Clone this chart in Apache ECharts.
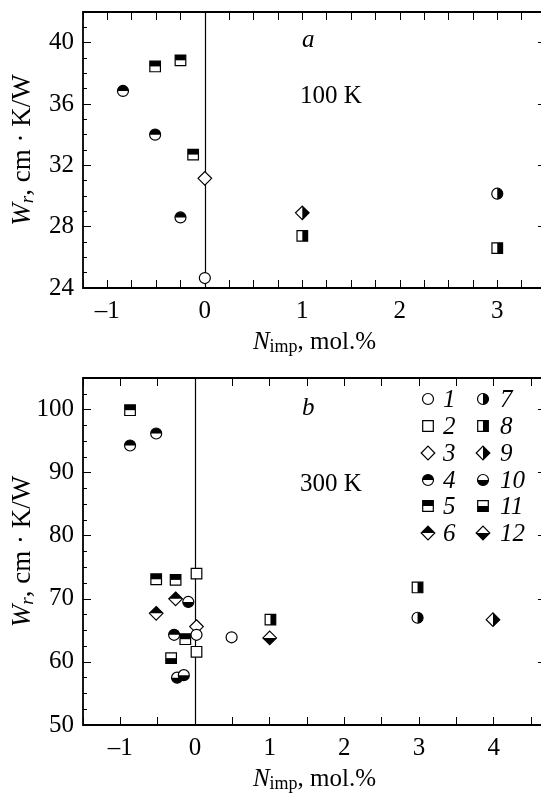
<!DOCTYPE html>
<html>
<head>
    <meta charset="utf-8">
    <title>Wr vs Nimp</title>
    <script src="https://cdn.jsdelivr.net/npm/echarts@6/dist/echarts.min.js"></script>
</head>
<body style="margin:0;background:#fff;">
    <div id="main" style="width: 541px;height:793px;"></div>
    <script type="text/javascript">
        // points: [N_imp, W_r, marker number 1..12]
        const pointsA = [
            [-0.84, 36.85, 4], [-0.51, 34.0, 4], [-0.25, 28.6, 4],
            [-0.51, 38.45, 5], [-0.25, 38.85, 5], [-0.12, 32.7, 5],
            [0, 31.15, 3],
            [0, 24.65, 1],
            [1.0, 28.9, 9],
            [1.0, 27.4, 8], [3.0, 26.6, 8],
            [3.0, 30.15, 7]
        ];
        const pointsB = [
            [-0.87, 99.9, 5], [-0.52, 73.1, 5], [-0.26, 73.0, 5], [-0.13, 63.6, 5],
            [-0.87, 94.3, 4], [-0.52, 96.2, 4], [-0.28, 64.3, 4],
            [0.02, 74.0, 2], [0.02, 61.6, 2],
            [-0.26, 70.0, 6], [-0.52, 67.7, 6],
            [-0.09, 69.5, 10], [-0.24, 57.5, 10], [-0.15, 57.9, 10],
            [0.02, 65.6, 3],
            [0.02, 64.3, 1], [0.49, 63.9, 1],
            [-0.32, 60.6, 11],
            [1.01, 66.7, 8], [2.98, 71.8, 8],
            [1.0, 63.8, 12],
            [2.98, 67.0, 7],
            [3.99, 66.7, 9]
        ];
        const legendLabels = ['1', '2', '3', '4', '5', '6', '7', '8', '9', '10', '11', '12'];
        const panelTags = ['a', 'b'];
        const panelTemps = ['100 K', '300 K'];

        const serif = 'Liberation Serif';

        // marker shape: circle / square / diamond, black half: none / top / right / bottom
        function markerChildren(cx, cy, t) {
            const shape = (t - 1) % 3;
            const half = Math.floor((t - 1) / 3);
            const edge = { stroke: '#000', lineWidth: 1.2 };
            const out = [];
            if (shape === 0) {
                const r = 5.5;
                out.push({ type: 'circle', shape: { cx: cx, cy: cy, r: r }, style: { fill: '#fff' } });
                if (half > 0) {
                    const ang = [[Math.PI, 2 * Math.PI], [-Math.PI / 2, Math.PI / 2], [0, Math.PI]][half - 1];
                    out.push({ type: 'sector', shape: { cx: cx, cy: cy, r: r, r0: 0, startAngle: ang[0], endAngle: ang[1], clockwise: true }, style: { fill: '#000' } });
                }
                out.push({ type: 'circle', shape: { cx: cx, cy: cy, r: r }, style: Object.assign({ fill: null }, edge) });
            } else if (shape === 1) {
                const s = 5.3;
                out.push({ type: 'rect', shape: { x: cx - s, y: cy - s, width: 2 * s, height: 2 * s }, style: { fill: '#fff' } });
                if (half > 0) {
                    const h = [[cx - s, cy - s, 2 * s, s], [cx, cy - s, s, 2 * s], [cx - s, cy, 2 * s, s]][half - 1];
                    out.push({ type: 'rect', shape: { x: h[0], y: h[1], width: h[2], height: h[3] }, style: { fill: '#000' } });
                }
                out.push({ type: 'rect', shape: { x: cx - s, y: cy - s, width: 2 * s, height: 2 * s }, style: Object.assign({ fill: null }, edge) });
            } else {
                const d = 6.8;
                const T = [cx, cy - d], R = [cx + d, cy], B = [cx, cy + d], L = [cx - d, cy];
                out.push({ type: 'polygon', shape: { points: [T, R, B, L] }, style: { fill: '#fff' } });
                if (half > 0) {
                    const pts = [[T, R, L], [T, R, B], [L, R, B]][half - 1];
                    out.push({ type: 'polygon', shape: { points: pts }, style: { fill: '#000' } });
                }
                out.push({ type: 'polygon', shape: { points: [T, R, B, L] }, style: Object.assign({ fill: null }, edge) });
            }
            return out;
        }

        const axisLine = { show: true, onZero: false, lineStyle: { color: '#000', width: 1.8 } };
        const tickIn = { show: true, inside: true, length: 8, lineStyle: { color: '#000', width: 1 } };
        const minorIn = { show: true, length: 4, lineStyle: { color: '#000', width: 1 } };
        const labelStyle = { color: '#000', fontFamily: serif, fontSize: 25 };

        function xAxes(grid, min, max, interval, minorSplit) {
            const base = {
                type: 'value', gridIndex: grid, min: min, max: max, interval: interval,
                axisLine: axisLine, axisTick: tickIn, splitLine: { show: false },
                minorTick: minorSplit ? Object.assign({ splitNumber: minorSplit }, minorIn) : { show: false }
            };
            return [
                Object.assign({}, base, {
                    position: 'bottom',
                    axisLabel: Object.assign({ margin: 11, formatter: function (v) { return Number.isInteger(v) ? (v < 0 ? '\u2013' + (-v) : String(v)) : ''; } }, labelStyle),
                    name: '{i|N}{s|imp}{n|, mol.%}', nameLocation: 'middle', nameGap: 40,
                    nameTextStyle: {
                        color: '#000', fontFamily: serif, fontSize: 25,
                        rich: {
                            i: { fontFamily: serif, fontSize: 25, fontStyle: 'italic', color: '#000' },
                            s: { fontFamily: serif, fontSize: 18, color: '#000', padding: [10, 0, 0, 0] },
                            n: { fontFamily: serif, fontSize: 25, color: '#000' }
                        }
                    }
                }),
                Object.assign({}, base, { position: 'top', axisLabel: { show: false } })
            ];
        }

        function yAxes(grid, min, max, interval, every, minorSplit) {
            const base = {
                type: 'value', gridIndex: grid, min: min, max: max, interval: interval,
                axisLine: axisLine, axisTick: tickIn, splitLine: { show: false },
                minorTick: Object.assign({ splitNumber: minorSplit }, minorIn)
            };
            return [
                Object.assign({}, base, {
                    position: 'left',
                    axisLabel: Object.assign({ margin: 9, formatter: function (v) { return (v - min) % every === 0 ? String(v) : ''; } }, labelStyle),
                    name: '{i|W}{s|r}{n|, cm \u00B7 K/W}', nameLocation: 'middle', nameGap: 46, nameMoveOverlap: false,
                    nameTextStyle: {
                        color: '#000', fontFamily: serif, fontSize: 27,
                        rich: {
                            i: { fontFamily: serif, fontSize: 27, fontStyle: 'italic', color: '#000' },
                            s: { fontFamily: serif, fontSize: 19, fontStyle: 'italic', color: '#000', padding: [10, 0, 0, 0] },
                            n: { fontFamily: serif, fontSize: 27, color: '#000' }
                        }
                    }
                }),
                Object.assign({}, base, { position: 'right', axisLabel: { show: false } })
            ];
        }

        function scatter(grid, points) {
            return {
                type: 'custom', xAxisIndex: grid * 2, yAxisIndex: grid * 2, z: 5,
                data: points, encode: { x: 0, y: 1 },
                renderItem: function (params, api) {
                    const p = api.coord([api.value(0), api.value(1)]);
                    return { type: 'group', children: markerChildren(p[0], p[1], api.value(2)) };
                }
            };
        }

        function zeroLine(grid) {
            return {
                type: 'line', xAxisIndex: grid * 2, yAxisIndex: grid * 2, data: [], z: 1,
                markLine: {
                    silent: true, symbol: ['none', 'none'], label: { show: false },
                    lineStyle: { color: '#000', type: 'solid', width: 1.2 },
                    data: [{ xAxis: 0 }]
                }
            };
        }

        // legend (panel b)
        const legendColX = [428, 483], legendTextX = [443, 500];
        const legendRowY = [399, 426, 453, 480, 506, 533];
        const legendGraphics = legendLabels.map(function (lab, i) {
            const col = i < 6 ? 0 : 1, row = i % 6;
            return {
                type: 'group',
                children: markerChildren(legendColX[col], legendRowY[row], i + 1).concat([{
                    type: 'text',
                    style: { text: lab, x: legendTextX[col], y: legendRowY[row] + 1, verticalAlign: 'middle', font: 'italic 25px ' + serif, fill: '#000' }
                }])
            };
        });

        const textGraphics = [
            { type: 'text', style: { text: panelTags[0], x: 302, y: 40, verticalAlign: 'middle', font: 'italic 25px ' + serif, fill: '#000' } },
            { type: 'text', style: { text: panelTemps[0], x: 300, y: 96, verticalAlign: 'middle', font: '25px ' + serif, fill: '#000' } },
            { type: 'text', style: { text: panelTags[1], x: 302, y: 408, verticalAlign: 'middle', font: 'italic 25px ' + serif, fill: '#000' } },
            { type: 'text', style: { text: panelTemps[1], x: 300, y: 484, verticalAlign: 'middle', font: '25px ' + serif, fill: '#000' } }
        ];

        var myChart = echarts.init(document.getElementById('main'));
        var option = {
            animation: false,
            backgroundColor: '#fff',
            grid: [
                { left: 83, top: 12, right: -5, height: 276, outerBoundsMode: 'none' },
                { left: 83, top: 378, right: -5, height: 347, outerBoundsMode: 'none' }
            ],
            xAxis: xAxes(0, -1.25, 3.5, 0.25, 0).concat(xAxes(1, -1.5, 4.7, 0.5, 0)),
            yAxis: yAxes(0, 24, 42, 4, 4, 4).concat(yAxes(1, 50, 105, 10, 10, 4)),
            series: [zeroLine(0), scatter(0, pointsA), zeroLine(1), scatter(1, pointsB)],
            graphic: textGraphics.concat(legendGraphics)
        };
        myChart.setOption(option);
    </script>
</body>
</html>
